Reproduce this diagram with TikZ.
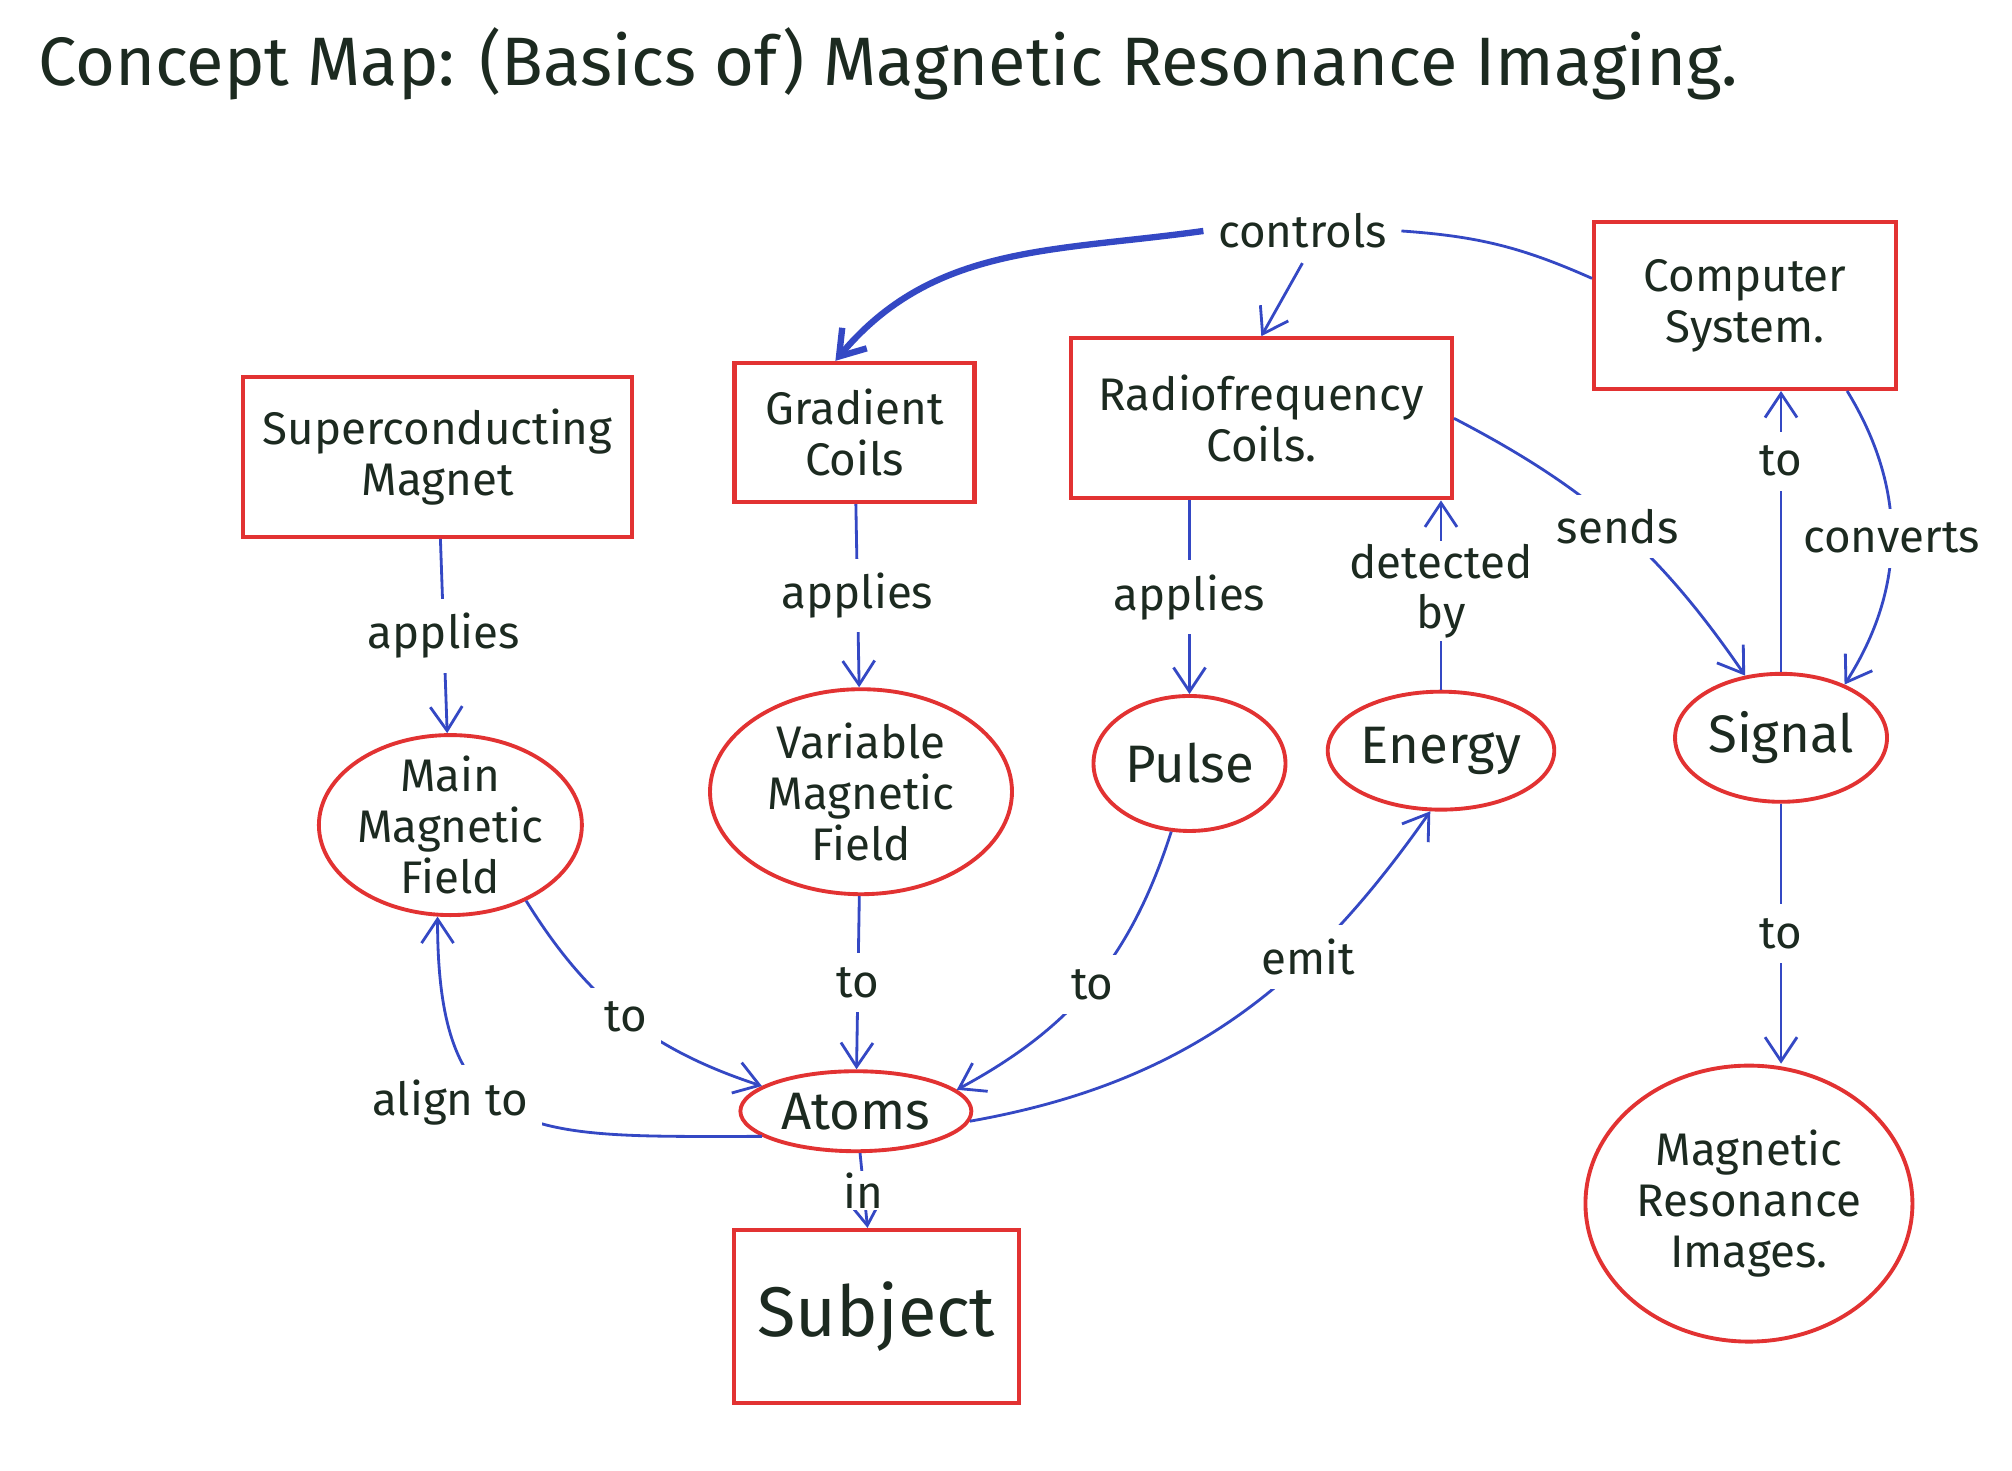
\documentclass[tikz,border=0pt]{standalone}
\usepackage{fontspec}
\setmainfont{Fira Sans}
\usepackage{xcolor}
\usetikzlibrary{arrows.meta,shapes.geometric,calc}
\definecolor{penred}{RGB}{226,50,50}
\definecolor{penblue}{RGB}{52,72,196}
\definecolor{ink}{RGB}{28,42,32}
\tikzset{
  >={Straight Barb[length=2.4mm,width=3.2mm]},
  box/.style={draw=penred, line width=1.2pt, align=center, text=ink, font=\fontsize{13}{14.5}\selectfont},
  oval/.style={ellipse, draw=penred, line width=1.1pt, align=center, inner sep=0pt, text=ink, font=\fontsize{13}{14.5}\selectfont},
  link/.style={draw=penblue, line width=0.8pt},
  linkword/.style={fill=white, inner sep=4pt, align=center, text=ink, font=\fontsize{13}{14}\selectfont},
}

\begin{document}
\begin{tikzpicture}[x=0.01283cm, y=0.01283cm]
  \fill[white] (0,0) rectangle (1568,1146);
  \useasboundingbox (0,0) rectangle (1568,1146);

  \node[anchor=west, text=ink, font=\fontsize{19.5}{22}\selectfont] (title) at (20,1096) {Concept Map: (Basics of) Magnetic Resonance Imaging.};

  % boxes
  \node[box, minimum width=3.89cm, minimum height=1.6cm] (magnet) at (341,790) {Superconducting\\Magnet};
  \node[box, minimum width=2.4cm, minimum height=1.39cm] (gradient) at (666,809) {Gradient\\Coils};
  \node[box, minimum width=3.81cm, minimum height=1.6cm] (rfcoils) at (983,820) {Radiofrequency\\Coils.};
  \node[box, minimum width=3.02cm, minimum height=1.67cm] (computer) at (1360,908) {Computer\\System.};
  \node[box, minimum width=2.85cm, minimum height=1.73cm, font=\fontsize{20}{22}\selectfont] (subject) at (683,120) {Subject};

  % ovals
  \node[oval, minimum width=2.63cm, minimum height=1.8cm, inner sep=-3pt] (mainfield) at (351,503) {Main\\Magnetic\\Field};
  \node[oval, minimum width=3.02cm, minimum height=2.05cm, inner sep=-2pt] (varfield) at (671,529) {Variable\\Magnetic\\Field};
  \node[oval, minimum width=1.92cm, minimum height=1.35cm, font=\fontsize{15}{17}\selectfont] (pulse) at (927,551) {Pulse};
  \node[oval, minimum width=2.12cm, minimum height=1.18cm, font=\fontsize{15}{17}\selectfont] (energy) at (1123,561) {Energy};
  \node[oval, minimum width=2.12cm, minimum height=1.28cm, font=\fontsize{15}{17}\selectfont] (signal) at (1388,571) {Signal};
  \node[oval, minimum width=2.31cm, minimum height=0.8cm, font=\fontsize{15}{17}\selectfont] (atoms) at (667,280) {Atoms};
  \node[oval, minimum width=3.27cm, minimum height=2.76cm] (mrimages) at (1363,208) {Magnetic\\Resonance\\Images.};

  % links
  \node[linkword] (ctl) at (1015,966) {controls};
  \draw[link] (computer.170) to[bend right=10] (ctl.east);
  \draw[link, ->, line width=1.8pt] (ctl.west) to[out=188, in=50] (gradient.105);
  \draw[link, ->] (ctl.south) -- (rfcoils.north);

  \draw[link, ->] (magnet) -- node[linkword] {applies} (mainfield);
  \draw[link, ->] (gradient) -- node[linkword] {applies} (varfield);
  \draw[link, ->] (rfcoils.south -| pulse.north) -- node[linkword] {applies} (pulse.north);
  \draw[link, ->] (energy.north) -- node[linkword, pos=0.52, inner ysep=1pt] {detected\\by} (energy.north |- rfcoils.south);
  \draw[link, ->] (rfcoils.east) to[bend left=14] node[linkword] {sends} (signal.120);
  \draw[link, ->] (signal.north) -- node[linkword, pos=0.75] {to} (signal.north |- computer.south);
  \draw[link, ->] (computer.-40) to[bend left=32] node[linkword] {converts} (signal.40);
  \draw[link, ->] (signal.south) -- node[linkword] {to} (signal.south |- mrimages.north);

  \draw[link, ->] (mainfield.-45) to[bend right=20] node[linkword] {to} (atoms.165);
  \draw[link, ->] (atoms.195) to[out=180, in=-90, looseness=1.5] node[linkword, xshift=-18pt, yshift=3pt] {align to} (mainfield.-98);
  \draw[link, ->] (varfield) -- node[linkword] {to} (atoms);
  \draw[link, ->] (pulse.-105) to[bend left=22] node[linkword] {to} (atoms.12);
  \draw[link, ->] (atoms.-5) to[out=10, in=235] node[linkword, pos=0.68] {emit} (energy.-100);
  \draw[link, ->] (atoms) -- node[linkword, inner ysep=0.5pt] {in} (subject);
\end{tikzpicture}
\end{document}
